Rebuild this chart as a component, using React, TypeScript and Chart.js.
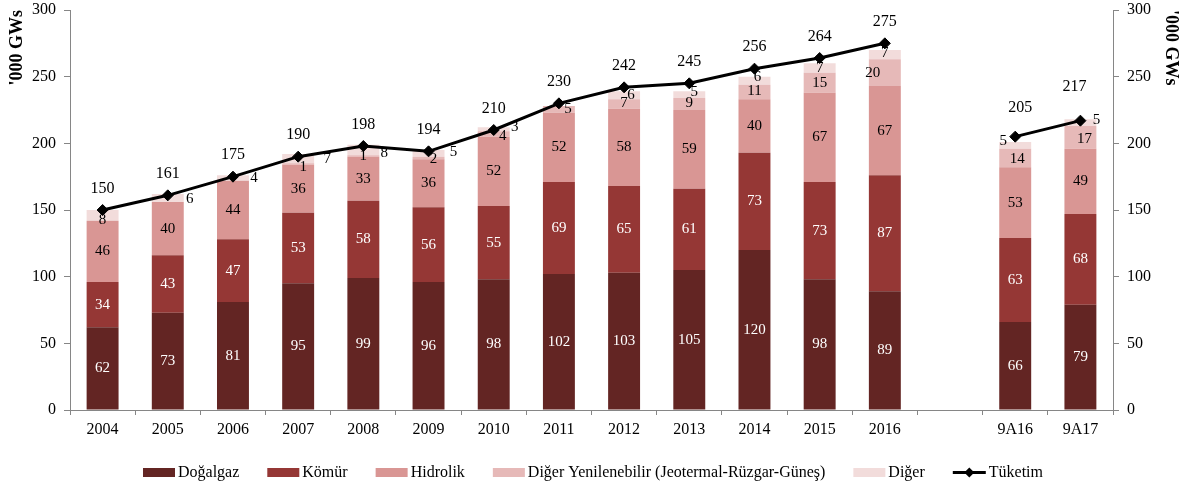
import React, { useEffect, useRef } from 'react';
import { Chart, registerables } from 'chart.js';

Chart.register(...registerables);

// ---- data ----
const categories = ['2004', '2005', '2006', '2007', '2008', '2009', '2010', '2011', '2012', '2013', '2014', '2015', '2016', '', '9A16', '9A17'];
const dogalgaz = [62, 73, 81, 95, 99, 96, 98, 102, 103, 105, 120, 98, 89, null, 66, 79];
const komur = [34, 43, 47, 53, 58, 56, 55, 69, 65, 61, 73, 73, 87, null, 63, 68];
const hidrolik = [46, 40, 44, 36, 33, 36, 52, 52, 58, 59, 40, 67, 67, null, 53, 49];
const digerYenilenebilir = [0, 0, 0, 1, 1, 2, 4, 5, 7, 9, 11, 15, 20, null, 14, 17];
const diger = [8, 6, 4, 7, 8, 5, 3, 0, 6, 5, 6, 7, 7, null, 5, 5];
const tuketim = [150, 161, 175, 190, 198, 194, 210, 230, 242, 245, 256, 264, 275, null, 205, 217];
const axisMin = 0;
const axisMax = 300;
const axisStep = 50;

const seriesNames = ['Doğalgaz', 'Kömür', 'Hidrolik', 'Diğer Yenilenebilir (Jeotermal-Rüzgar-Güneş)', 'Diğer', 'Tüketim'];
const axisTitle = "'000 GWs";

// ---- styles ----
const FONT = '"Liberation Serif", "Times New Roman", serif';
const colors = ['#632523', '#953735', '#D99694', '#E6B9B8', '#F2DCDB'];
const AXIS_GRAY = '#868686';

// label nudges (dx, dy) relative to the default label position
const labelNudges: Record<string, [number, number]> = {
  '3-3': [5, 3], '3-5': [5, 1], '3-6': [9, 2], '3-7': [9, 0], '3-8': [0, -1], '3-9': [0, -1],
  '3-10': [0, -1], '3-12': [-12, 0], '3-14': [2, 1], '3-15': [4, 2],
  '4-0': [0, 5], '4-1': [22, 1], '4-2': [21, 0], '4-3': [29, 0], '4-4': [21, 3], '4-5': [25, -1],
  '4-6': [21, -2], '4-8': [7, 0], '4-9': [5, -3], '4-10': [3, -4], '4-12': [0, -2],
  '4-14': [-12, -4], '4-15': [16, -3],
  '5-14': [5, -7], '5-15': [-6, -12],
};

const valueLabels = {
  id: 'valueLabels',
  afterDatasetsDraw(chart: any) {
    const ctx = chart.ctx;
    ctx.save();
    ctx.textAlign = 'center';
    ctx.textBaseline = 'middle';
    chart.data.datasets.forEach((ds: any, di: number) => {
      const meta = chart.getDatasetMeta(di);
      meta.data.forEach((el: any, i: number) => {
        const v = ds.data[i];
        if (v == null || v === 0) return;
        const n = labelNudges[`${di}-${i}`] || [0, 0];
        if (meta.type === 'bar') {
          const p = el.getProps(['x', 'y', 'base'], true);
          ctx.font = `15px ${FONT}`;
          ctx.fillStyle = di < 2 ? '#ffffff' : '#000000';
          ctx.fillText(String(v), p.x + n[0], (p.y + p.base) / 2 + n[1]);
        } else {
          const p = el.getProps(['x', 'y'], true);
          ctx.font = `16px ${FONT}`;
          ctx.fillStyle = '#000000';
          ctx.fillText(String(v), p.x + n[0], p.y - 21.5 + n[1]);
        }
      });
    });
    ctx.restore();
  },
};

const customLegend = {
  id: 'customLegend',
  afterDraw(chart: any) {
    const ctx = chart.ctx;
    ctx.save();
    ctx.font = `16px ${FONT}`;
    ctx.textBaseline = 'middle';
    ctx.textAlign = 'left';
    const items = chart.data.datasets.map((ds: any) => ({
      text: ds.label as string,
      type: ds.type === 'line' ? 'line' : 'box',
      color: ds.type === 'line' ? '#000' : ds.backgroundColor,
    }));
    const iconW = (it: any) => (it.type === 'line' ? 33 : 32);
    const gap = 3;
    const itemGap = 28;
    let total = 0;
    items.forEach((it: any, k: number) => {
      total += iconW(it) + gap + ctx.measureText(it.text).width;
      if (k > 0) total += itemGap;
    });
    let x = (chart.width - total) / 2;
    const yc = 472.5;
    items.forEach((it: any) => {
      if (it.type === 'box') {
        ctx.fillStyle = it.color;
        ctx.fillRect(x, yc - 4.5, 32, 9);
      } else {
        ctx.strokeStyle = '#000';
        ctx.lineWidth = 3;
        ctx.beginPath();
        ctx.moveTo(x, yc);
        ctx.lineTo(x + 33, yc);
        ctx.stroke();
        ctx.fillStyle = '#000';
        const cx = x + 16.5;
        const r = 5;
        ctx.beginPath();
        ctx.moveTo(cx - r, yc);
        ctx.lineTo(cx, yc - r);
        ctx.lineTo(cx + r, yc);
        ctx.lineTo(cx, yc + r);
        ctx.closePath();
        ctx.fill();
      }
      x += iconW(it) + gap;
      ctx.fillStyle = '#000';
      ctx.fillText(it.text, x, yc);
      x += ctx.measureText(it.text).width + itemGap;
    });
    ctx.restore();
  },
};

export default function App() {
  const ref = useRef<HTMLCanvasElement | null>(null);

  useEffect(() => {
    if (!ref.current) return;
    const barSets = [dogalgaz, komur, hidrolik, digerYenilenebilir, diger].map((data, k) => ({
      type: 'bar' as const,
      label: seriesNames[k],
      data,
      backgroundColor: colors[k],
      borderWidth: 0,
      barPercentage: 0.49,
      categoryPercentage: 1,
      yAxisID: 'y',
      order: 1,
    }));
    const lineSet = {
      type: 'line' as const,
      label: seriesNames[5],
      data: tuketim,
      borderColor: '#000000',
      backgroundColor: '#000000',
      borderWidth: 3,
      pointStyle: 'rectRot' as const,
      pointRadius: 5.5,
      pointBorderWidth: 1,
      pointBackgroundColor: '#000000',
      pointBorderColor: '#000000',
      tension: 0,
      spanGaps: false,
      yAxisID: 'y2',
      order: 0,
    };

    const tickFont = { family: FONT, size: 16 };
    const titleFont = { family: FONT, size: 18, weight: 'bold' as const };

    const yScale = (position: 'left' | 'right', stacked: boolean, titlePad: number, width: number) => ({
      type: 'linear' as const,
      position,
      stacked,
      min: axisMin,
      max: axisMax,
      ticks: { stepSize: axisStep, font: tickFont, color: '#000', padding: 8 },
      grid: { drawOnChartArea: false, drawTicks: true, tickLength: 6, color: AXIS_GRAY, lineWidth: 1 },
      border: { color: AXIS_GRAY, width: 1 },
      title: { display: true, text: axisTitle, font: titleFont, color: '#000', align: 'end' as const, padding: { top: titlePad, bottom: 0 } },
      afterFit: (s: any) => {
        s.width = width;
        s.paddingTop = 0;
        s.paddingBottom = 0;
      },
    });

    const chart = new Chart(ref.current, {
      data: { labels: categories, datasets: [...barSets, lineSet] as any },
      options: {
        responsive: false,
        maintainAspectRatio: false,
        animation: false,
        devicePixelRatio: 1,
        layout: { padding: { top: 10, bottom: 38, left: 0, right: 0 } },
        plugins: { legend: { display: false }, tooltip: { enabled: false } },
        scales: {
          x: {
            type: 'category',
            stacked: true,
            offset: true,
            grid: { offset: true, drawOnChartArea: false, drawTicks: true, tickLength: 5, color: AXIS_GRAY },
            border: { color: AXIS_GRAY, width: 1 },
            ticks: { font: tickFont, color: '#000', padding: 5, maxRotation: 0, autoSkip: false },
            afterFit: (s: any) => {
              s.height = 40;
              s.paddingLeft = 0;
              s.paddingRight = 0;
            },
          },
          y: yScale('left', true, 7, 70),
          y2: yScale('right', false, 5, 73),
        } as any,
      },
      plugins: [valueLabels, customLegend],
    });
    return () => chart.destroy();
  }, []);

  return (
    <div style={{ position: 'absolute', left: 0, top: 0, width: 1186, height: 488, background: '#fff' }}>
      <canvas ref={ref} width={1186} height={488} style={{ display: 'block', width: 1186, height: 488 }} />
    </div>
  );
}
